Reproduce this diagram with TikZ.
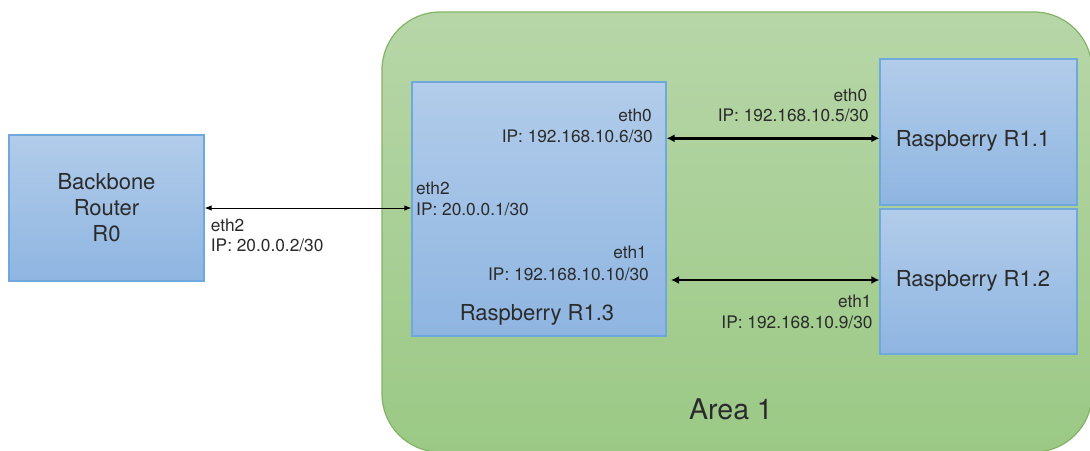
\documentclass[tikz,border=0pt]{standalone}
\usepackage{fontspec}
\setmainfont{TeX Gyre Heros}
\usetikzlibrary{arrows.meta}
\definecolor{areaT}{HTML}{B7D6A8}
\definecolor{areaB}{HTML}{9BC985}
\definecolor{areaedge}{HTML}{82B366}
\definecolor{boxT}{HTML}{B2CCEA}
\definecolor{boxB}{HTML}{8EB5E1}
\definecolor{boxedge}{HTML}{6FA8DC}
\definecolor{txt}{HTML}{2B2B2B}
\begin{document}
\begin{tikzpicture}[x=1pt,y=-1pt,
  box/.style={draw=boxedge, line width=1.2pt, top color=boxT, bottom color=boxB, rectangle, inner sep=0pt},
  big/.style={font=\fontsize{22}{26}\selectfont, text=txt, inner sep=0pt},
  small/.style={font=\fontsize{17.3}{20.7}\selectfont, text=txt, inner sep=0pt},
  thinlink/.style={line width=1pt, {Latex[length=7pt,width=5.5pt]}-{Latex[length=7pt,width=5.5pt]}},
  thicklink/.style={line width=2.4pt, {Latex[length=8pt,width=8pt]}-{Latex[length=8pt,width=8pt]}}]
\useasboundingbox (0,0) rectangle (1090,450);
\clip (0,0) rectangle (1090,450);
\fill[white] (0,0) rectangle (1090,450);

% Area 1
\draw[areaedge, line width=1.2pt, top color=areaT, bottom color=areaB, rounded corners=58pt]
  (382,12) rectangle (1092,452);
\node[font=\fontsize{28.5}{32}\selectfont, text=txt, inner sep=0pt, anchor=base] (area) at (731,419.3) {Area 1};

% boxes
\node[box, minimum width=195pt, minimum height=146pt, align=center, big] (r0) at (106.5,208)
  {Backbone\\Router\\R0};
\node[box, minimum width=254pt, minimum height=254pt] (r13) at (539,209) {};
\node[box, minimum width=197pt, minimum height=146pt] (r11) at (978.5,132) {};
\node[box, minimum width=197pt, minimum height=145pt] (r12) at (978.5,281.5) {};

\node[big, anchor=base] (r13t) at (537,320) {Raspberry R1.3};
\node[big, anchor=base west] (r11t) at (895.7,146.7) {Raspberry R1.1};
\node[big, anchor=base west] (r12t) at (895.7,286.7) {Raspberry R1.2};

% connectors
\coordinate (y0) at (0,138.3);
\coordinate (y1) at (671,280);
\draw[thinlink] (r0.east) -- (r0.east -| r13.west);
\draw[thicklink] (r13.east |- y0) -- (r11.west |- y0);
\draw[thicklink] (y1) -- (r12.west |- y1);

% labels
\node[small, anchor=base west] (l1a) at (210.7,231) {eth2};
\node[small, anchor=base west] (l1b) at (210.7,251.7) {IP: 20.0.0.2/30};
\node[small, anchor=base west] (l2a) at (416,194) {eth2};
\node[small, anchor=base west] (l2b) at (416,215) {IP: 20.0.0.1/30};
\node[small, anchor=base east] (l3a) at (652,121) {eth0};
\node[small, anchor=base east] (l3b) at (653,142.3) {IP: 192.168.10.6/30};
\node[small, anchor=base east] (l4a) at (647,258.3) {eth1};
\node[small, anchor=base east] (l4b) at (649,280) {IP: 192.168.10.10/30};
\node[small, anchor=base east] (l5a) at (867.3,101.7) {eth0};
\node[small, anchor=base east] (l5b) at (869,121.7) {IP: 192.168.10.5/30};
\node[small, anchor=base east] (l6a) at (871.7,307.3) {eth1};
\node[small, anchor=base east] (l6b) at (872.7,328.3) {IP: 192.168.10.9/30};
\end{tikzpicture}
\end{document}
